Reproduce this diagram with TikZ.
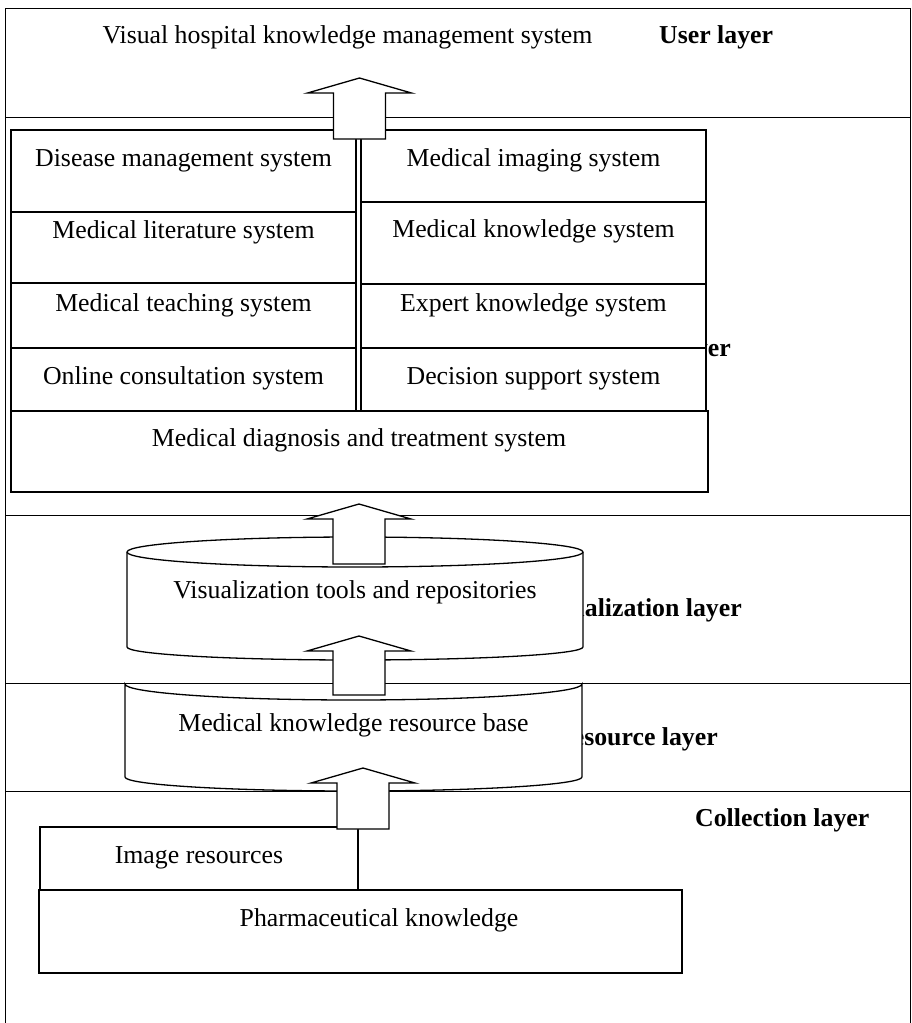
\documentclass[tikz,border=0pt]{standalone}
\usepackage{fontspec}
\setmainfont{Liberation Serif}
\usetikzlibrary{calc}

% upward block arrow from a base point (#1) to its tip (#2)
\newcommand{\blockarrow}[2]{%
  \path[draw, fill=white, line width=1.3pt, line join=miter]
    let \p1=(#1), \p2=(#2) in
    (\x1-26pt,\y1) -- (\x1-26pt,\y2-15pt) -- (\x1-52pt,\y2-15pt) --
    (\x1,\y2) -- (\x1+52pt,\y2-15pt) -- (\x1+26pt,\y2-15pt) --
    (\x1+26pt,\y1) -- cycle;}

\begin{document}
\begin{tikzpicture}[x=1pt,y=-1pt,
  txt/.style={font=\fontsize{25.8}{30}\selectfont, anchor=base, inner sep=0pt},
  lbl/.style={font=\fontsize{25.8}{30}\selectfont\bfseries, inner sep=0pt},
  layerbox/.style={draw, fill=white, line width=1pt},
  sysbox/.style={draw, fill=white, line width=1.3pt},
]
\useasboundingbox (0,0) rectangle (911,1023);

% layer frames
\draw[layerbox] (5,8) rectangle (910,117);
\draw[layerbox] (5,117) rectangle (910,515);
\draw[layerbox] (5,515) rectangle (910,683);
\draw[layerbox] (5,683) rectangle (910,791);
\draw[layerbox] (5,791) rectangle (910,1040);

% layer labels
\node[lbl, anchor=base west] (userlbl) at (659,43) {User layer};
\node[lbl, anchor=base east] (applbl) at (731,356) {Application layer};
\node[lbl, anchor=base east] (vislbl) at (742,616) {Visualization layer};
\node[lbl, anchor=base east] (reslbl) at (718,745) {Resource layer};
\node[lbl, anchor=base west] (collbl) at (695,826) {Collection layer};

% user layer
\node[txt] (vhkms) at (347.5,43) {Visual hospital knowledge management system};

% application systems, left column
\draw[sysbox] (11,130) rectangle (356,212);
\draw[sysbox] (11,212) rectangle (356,283);
\draw[sysbox] (11,283) rectangle (356,348);
\draw[sysbox] (11,348) rectangle (356,411);
% right column
\draw[sysbox] (361,130) rectangle (706,202);
\draw[sysbox] (361,202) rectangle (706,284);
\draw[sysbox] (361,284) rectangle (706,348);
\draw[sysbox] (361,348) rectangle (706,411);
% full-width system
\draw[sysbox] (11,411) rectangle (708,492);

\node[txt] (disease) at (183.5,166) {Disease management system};
\node[txt] (literature) at (183.5,238) {Medical literature system};
\node[txt] (teaching) at (183.5,311) {Medical teaching system};
\node[txt] (online) at (183.5,384) {Online consultation system};
\node[txt] (imaging) at (533.5,166) {Medical imaging system};
\node[txt] (knowledge) at (533.5,237) {Medical knowledge system};
\node[txt] (expert) at (533.5,311) {Expert knowledge system};
\node[txt] (decision) at (533.5,384) {Decision support system};
\node[txt] (diagnosis) at (359,446) {Medical diagnosis and treatment system};

% visualization repository (cylinder)
\path[sysbox] (127,552) -- (127,647)
  arc[start angle=180, end angle=0, x radius=228, y radius=13]
  -- (583,552)
  arc[start angle=0, end angle=-180, x radius=228, y radius=15] -- cycle;
\draw[line width=1.3pt] (127,552) arc[start angle=180, end angle=0, x radius=228, y radius=15];
\node[txt] (vistools) at (355,598) {Visualization tools and repositories};

% resource base (cylinder, back rim hidden by the layer above)
\path[sysbox] (125,684)
  arc[start angle=180, end angle=0, x radius=228.5, y radius=16]
  -- (582,777)
  arc[start angle=0, end angle=180, x radius=228.5, y radius=14] -- cycle;
\node[txt] (resbase) at (353.5,731) {Medical knowledge resource base};

% collection layer
\draw[sysbox] (40,827) rectangle (358,890);
\draw[sysbox] (39,890) rectangle (682,973);
\node[txt] (imgres) at (199,863) {Image resources};
\node[txt] (pharma) at (379,926) {Pharmaceutical knowledge};

% flow arrows between layers
\coordinate (a1b) at (359.5,139); \coordinate (a1t) at (359.5,78);
\coordinate (a2b) at (359,564);   \coordinate (a2t) at (359,504);
\coordinate (a3b) at (359,695);   \coordinate (a3t) at (359,636);
\coordinate (a4b) at (363,829);   \coordinate (a4t) at (363,768);
\blockarrow{a1b}{a1t}
\blockarrow{a2b}{a2t}
\blockarrow{a3b}{a3t}
\blockarrow{a4b}{a4t}
\end{tikzpicture}
\end{document}
